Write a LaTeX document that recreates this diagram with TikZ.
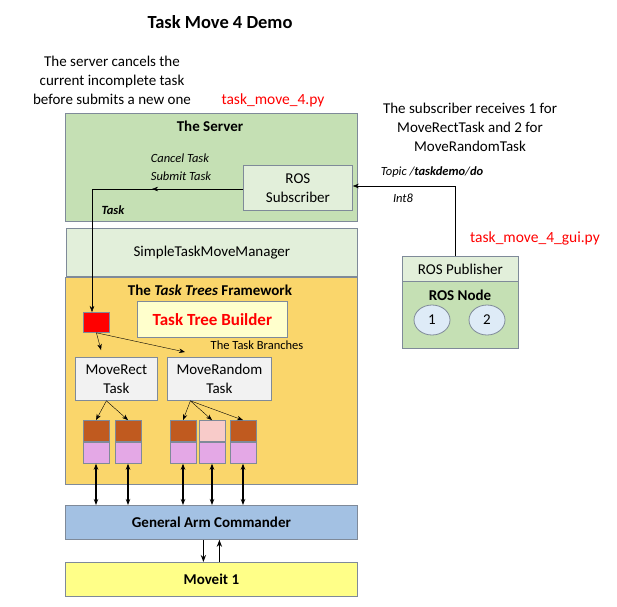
\documentclass[tikz,border=0pt]{standalone}
\usepackage{fontspec}
\setmainfont{Carlito}
\usetikzlibrary{positioning,arrows.meta,shapes.geometric}
\definecolor{srvgreen}{HTML}{C5E0B4}
\definecolor{lightgreen}{HTML}{E2EFDA}
\definecolor{frameyellow}{HTML}{FAD66B}
\definecolor{builderyellow}{HTML}{FFFFCC}
\definecolor{taskgray}{HTML}{F2F2F2}
\definecolor{brickbrown}{HTML}{C05A1F}
\definecolor{leafpurple}{HTML}{E4A8E6}
\definecolor{leafpink}{HTML}{F8CBC9}
\definecolor{armblue}{HTML}{A3C1E3}
\definecolor{moveyellow}{HTML}{FFFF88}
\definecolor{nodeblue}{HTML}{DEEBF7}
\definecolor{boxedge}{HTML}{7F8A99}
\tikzset{
  blk/.style={draw=boxedge,line width=0.8pt,anchor=north west,inner sep=0pt},
  lbl/.style={font=\fontsize{15}{19}\selectfont},
  small/.style={font=\fontsize{12.5}{18}\selectfont},
  redtxt/.style={text=red,font=\fontsize{15.5}{18}\selectfont},
  leaf/.style={draw=boxedge,line width=0.8pt,minimum width=26pt,minimum height=21pt,inner sep=0pt},
  arr/.style={-{Stealth[length=6pt]},thin},
  dbl/.style={{Stealth[length=6pt]}-{Stealth[length=6pt]},line width=1.4pt},
  big/.style={-{Stealth[length=7pt]},line width=1.4pt}
}
\begin{document}
\begin{tikzpicture}[x=1pt,y=-1pt]
\useasboundingbox (0,0) rectangle (617,606);
% titles and notes
\node[font=\bfseries\fontsize{18.5}{22}\selectfont] (title) at (220,22) {Task Move 4 Demo};
\node[lbl,align=center] (cancelnote) at (112,80) {The server cancels the\\current incomplete task\\before submits a new one};
\node[redtxt] (srvfile) at (273,100) {task\_move\_4.py};
\node[lbl,align=center] (subnote) at (470,127) {The subscriber receives 1 for\\MoveRectTask and 2 for\\MoveRandomTask};
\node[redtxt] (guifile) at (535,238) {task\_move\_4\_gui.py};
% server
\node[blk,fill=srvgreen,minimum width=292pt,minimum height=108pt] (server) at (65,113) {};
\node[font=\bfseries\fontsize{15}{18}\selectfont] (srvtitle) at (210,126) {The Server};
\node[small,font=\itshape\fontsize{12.5}{18}\selectfont,align=left] (cmds) at (181,167) {Cancel Task\\Submit Task};
\node[blk,fill=lightgreen,minimum width=109pt,minimum height=45pt,align=center,lbl] (sub) at (243,165) {ROS\\Subscriber};
\node[font=\bfseries\itshape\fontsize{12.5}{15}\selectfont] (tasklbl) at (113,210) {Task};
% manager and framework
\node[blk,fill=lightgreen,minimum width=291pt,minimum height=48pt,lbl] (mgr) at (66,228) {SimpleTaskMoveManager};
\node[blk,fill=frameyellow,minimum width=292pt,minimum height=207pt] (frame) at (65,277) {};
\node[lbl] (frametitle) at (210,290) {\textbf{The \textit{Task Trees} Framework}};
\node[blk,fill=red,minimum width=26pt,minimum height=20pt] (root) at (83,312) {};
\node[blk,fill=builderyellow,minimum width=150pt,minimum height=36pt,text=red,font=\bfseries\fontsize{17}{20}\selectfont] (builder) at (137,301) {Task Tree Builder};
\node[small] (branches) at (257,345) {The Task Branches};
\node[blk,fill=taskgray,minimum width=82pt,minimum height=43pt,align=center,lbl] (rect) at (75,357) {MoveRect\\Task};
\node[blk,fill=taskgray,minimum width=104pt,minimum height=43pt,align=center,lbl] (rand) at (167,357) {MoveRandom\\Task};
% leaves
\foreach \n/\x/\c in {a/96/brickbrown,b/128/brickbrown,c/183/brickbrown,d/212/leafpink,e/243/brickbrown}{
  \node[leaf,fill=\c] (top\n) at (\x,431) {};
  \node[leaf,fill=leafpurple,below=0pt of top\n] (bot\n) {};
}
% commander and moveit
\node[blk,fill=armblue,minimum width=292pt,minimum height=34pt,font=\bfseries\fontsize{15}{18}\selectfont] (arm) at (65,505) {General Arm Commander};
\node[blk,fill=moveyellow,minimum width=292pt,minimum height=34pt,font=\bfseries\fontsize{15}{18}\selectfont] (moveit) at (65,562) {Moveit 1};
% ROS node
\node[blk,fill=lightgreen,minimum width=116pt,minimum height=25pt,lbl] (pub) at (402,256) {ROS Publisher};
\node[blk,fill=srvgreen,minimum width=116pt,minimum height=67pt] (rosnode) at (402,281) {};
\node[font=\bfseries\fontsize{15}{18}\selectfont] (rosnodelbl) at (460,295) {ROS Node};
\node[draw=boxedge,line width=0.8pt,fill=nodeblue,ellipse,minimum width=36pt,minimum height=30pt,inner sep=0pt,lbl] (one) at (432,320) {1};
\node[draw=boxedge,line width=0.8pt,fill=nodeblue,ellipse,minimum width=36pt,minimum height=30pt,inner sep=0pt,lbl] (two) at (487,320) {2};
\node[small,anchor=center] (topic) at (432,172) {\textit{Topic /\textbf{taskdemo}/\textbf{do}}};
\node[small,font=\itshape\fontsize{12.5}{15}\selectfont] (int) at (403,198) {Int8};
% connectors
\coordinate (turn) at (455,186);
\coordinate (corner) at (92,189);
\draw[arr] (pub.north -| turn) -- (turn) -- (sub.east |- turn);
\draw[thin] (sub.west |- corner) -- (corner);
\draw[arr] (sub.west |- corner) -- (152,189);
\draw[arr] (corner) -- (root.north -| corner);
\draw[arr] (root.south) -- (101,350);
\draw[arr] (root.south) -- (185,352);
\draw[arr] ([xshift=-10pt]rect.south) -- (topa.north);
\draw[arr] ([xshift=-10pt]rect.south) -- (topb.north);
\draw[arr] ([xshift=-29pt]rand.south) -- (topc.north);
\draw[arr] ([xshift=-29pt]rand.south) -- (topd.north);
\draw[arr] ([xshift=-29pt]rand.south) -- (tope.north);
\foreach \n in {a,b,c,d,e}
  \draw[dbl] (bot\n.south) -- (bot\n.south |- arm.north);
\draw[big] ([xshift=-8pt]arm.south) -- ([xshift=-8pt]arm.south |- moveit.north);
\draw[big] ([xshift=8pt]arm.south |- moveit.north) -- ([xshift=8pt]arm.south);
\end{tikzpicture}
\end{document}
